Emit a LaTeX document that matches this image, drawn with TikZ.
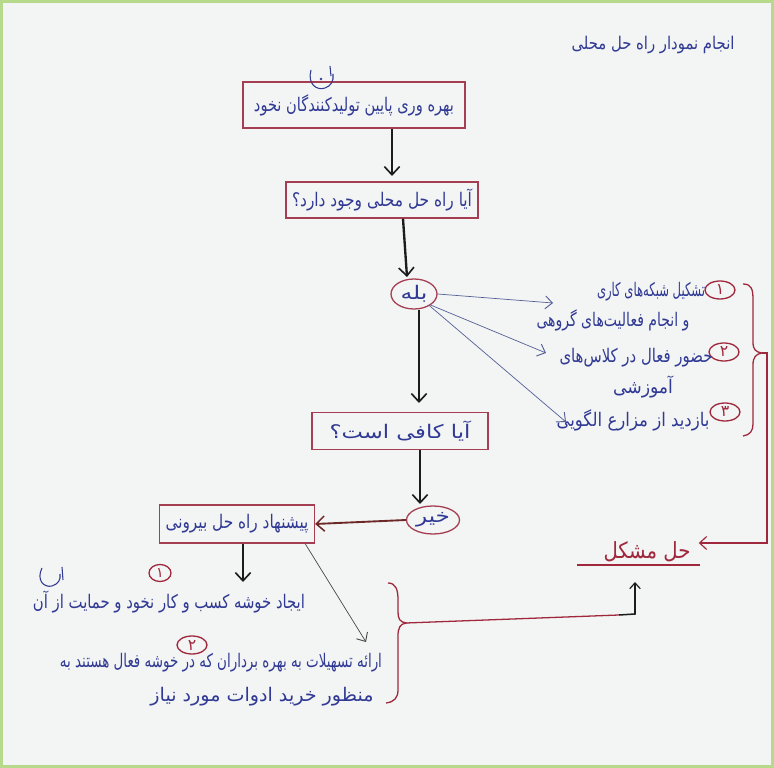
\documentclass[tikz,border=0pt]{standalone}
\usepackage{fontspec}
\usepackage{graphicx}
\setmainfont{DejaVu Sans}
\newfontfamily\fa[Script=Arabic]{DejaVu Sans}
\TeXXeTstate=1
\usetikzlibrary{arrows.meta,shapes.geometric}
\newlength\pxu
\setlength\pxu{0.03cm}
% Persian line at a given font size, stretched to a given width (pixel units)
\newcommand\fw[3][16]{\resizebox{#2\pxu}{\height}{\fa\fontsize{#1}{#1}\selectfont #3}}
% Persian glyph scaled to a given height (pixel units)
\newcommand\fh[2]{\resizebox{!}{#1\pxu}{\fa #2}}
\definecolor{paper}{RGB}{243,244,244}
\definecolor{framegreen}{RGB}{182,217,140}
\definecolor{inkblue}{RGB}{48,58,148}
\definecolor{boxred}{RGB}{165,62,82}
\definecolor{solred}{RGB}{160,40,60}
\definecolor{inkblack}{RGB}{28,28,28}
\definecolor{thinline}{RGB}{85,95,150}
\definecolor{darkred}{RGB}{110,40,40}
\tikzset{
  ink/.style={text=inkblue, inner sep=0pt},
  box/.style={draw=boxred, line width=1.1pt, rectangle, inner sep=0pt, text=inkblue},
  oval/.style={draw=boxred, line width=1.1pt, ellipse, inner sep=0pt, text=inkblue},
  numoval/.style={draw=solred, line width=1.1pt, ellipse, inner sep=0pt, minimum width=30\pxu, minimum height=18\pxu, text=solred},
  flow/.style={draw=inkblack, line width=2pt, -{Straight Barb[length=7pt,width=13pt,line width=1.4pt]}},
  thin/.style={draw=thinline, line width=0.6pt, -{Straight Barb[length=6pt,width=11pt,line width=0.8pt]}},
  bracepath/.style={draw=solred, line width=1.1pt},
  penmark/.style={draw=inkblue, line width=0.9pt},
}
\begin{document}
\begin{tikzpicture}[x=0.03cm,y=-0.03cm]
% page and frame
\fill[paper] (0,0) rectangle (774,768);
\draw[framegreen, line width=3\pxu] (1.5,1.5) rectangle (772.5,766.5);
\useasboundingbox (0,0) rectangle (774,768);

% title
\node[ink] (title) at (653,45) {\fw[15]{163}{\beginR انجام نمودار راه حل محلی\endR}};

% main chain
\node[box, minimum width=222\pxu, minimum height=46\pxu] (b1) at (354,105) {\fw{200}{\beginR بهره وری پایین تولیدکنندگان نخود\endR}};
\node[box, minimum width=192\pxu, minimum height=36\pxu] (b2) at (382,200) {\fw{180}{\beginR آیا راه حل محلی وجود دارد؟\endR}};
\node[oval, minimum width=46\pxu, minimum height=30\pxu] (yes) at (414,294) {\fw{27}{\beginR بله\endR}};
\node[box, minimum width=176\pxu, minimum height=37\pxu] (b3) at (400,431) {\fw{141}{\beginR آیا کافی است؟\endR}};
\node[oval, minimum width=53\pxu, minimum height=28\pxu] (no) at (433,520) {\fw{34}{\beginR خیر\endR}};
\node[box, minimum width=155\pxu, minimum height=38\pxu] (b4) at (237,524) {\fw{143}{\beginR پیشنهاد راه حل بیرونی\endR}};

% hand-drawn tag above the first box
\draw[penmark] (311,70) .. controls (307,84) and (317,91) .. (325,88) .. controls (331,86) and (334,81) .. (333,74);
\draw[penmark] (330,66) -- (331,76);
\fill[inkblue] (321,79) circle (1.3);

\draw[flow] (b1.south -| 392,0) -- (392,176);
\draw[flow] (b2.south -| 403,0) -- (407,277);
\draw[flow] (yes.south -| 419,0) -- (419,403);
\draw[flow] (b3.south -| 420,0) -- (420,504);
\draw[draw=darkred, line width=1.6pt, -{Straight Barb[length=7pt,width=13pt,line width=1.3pt]}] (no.west) -- (b4.east);
\draw[flow] (b4.south -| 243,0) -- (243,582);

% local solutions
\node[numoval] (n1) at (720,290) {\fh{10}{۱}};
\node[ink] (t1a) at (651,292) {\fw{108}{\beginR تشکیل شبکه‌های کاری\endR}};
\node[ink] (t1b) at (613,320) {\fw{153}{\beginR و انجام فعالیت‌های گروهی\endR}};
\node[numoval] (n2) at (724,352) {\fh{10}{۲}};
\node[ink] (t2a) at (636,358) {\fw{153}{\beginR حضور فعال در کلاس‌های\endR}};
\node[ink] (t2b) at (643,387) {\fw{60}{\beginR آموزشی\endR}};
\node[numoval] (n3) at (725,412) {\fh{10}{۳}};
\node[ink] (t3) at (633,420) {\fw{153}{\beginR بازدید از مزارع الگویی\endR}};

\coordinate (e1) at (553,303);
\coordinate (e2) at (546,353);
\coordinate (e3) at (566,422);
\draw[thin] (yes.east) -- (e1);
\draw[thin] (yes.south east) -- (e2);
\draw[thin] ([xshift=-2\pxu]yes.south east) -- (e3);

% right brace and its link to the result
\draw[bracepath] (743,284) .. controls (752,284) and (753,290) .. (753,300) -- (753,342)
  .. controls (753,350) and (756,352) .. (762,353)
  .. controls (756,354) and (753,357) .. (753,365) -- (753,424)
  .. controls (753,431) and (750,435) .. (743,436);
\coordinate (rtip) at (762,353);
\coordinate (rcorner) at (767,543);

% result
\node[text=solred, inner sep=0pt] (res) at (647,552) {\fw[19]{87}{\beginR حل مشکل\endR}};
\draw[solred, line width=1pt] (577,565) -- (700,565);
\draw[solred, line width=1.1pt, -{Straight Barb[length=6pt,width=11pt,line width=1pt]}]
  (rtip) -- (767,353) -- (rcorner) -- ([xshift=8\pxu]res.east |- rcorner);

% external solutions
\node[numoval, minimum width=22\pxu, minimum height=17\pxu] (n4) at (160,573) {\fh{9}{۱}};
\draw[penmark] (42,568) .. controls (36,580) and (44,588) .. (52,586) .. controls (58,584) and (61,580) .. (60,574);
\draw[penmark] (62,567) -- (63,580);
\node[ink] (t4) at (169,602) {\fw{272}{\beginR ایجاد خوشه کسب و کار نخود و حمایت از آن\endR}};
\node[numoval] (n5) at (192,645) {\fh{10}{۲}};
\node[ink] (t5a) at (221,663) {\fw{322}{\beginR ارائه تسهیلات به بهره برداران که در خوشه فعال هستند به\endR}};
\node[ink] (t5b) at (262,697) {\fw{223}{\beginR منظور خرید ادوات مورد نیاز\endR}};
\coordinate (e5) at (366,642);
\draw[thin, draw=inkblack!80] ([xshift=-10\pxu]b4.south east) -- (e5);

% left brace and its link to the result
\draw[bracepath] (388,583) .. controls (396,583) and (398,590) .. (398,600) -- (398,612)
  .. controls (398,619) and (400,622) .. (406,623)
  .. controls (400,624) and (398,628) .. (398,636) -- (398,690)
  .. controls (398,698) and (394,702) .. (386,703);
\coordinate (ltip) at (406,623);
\coordinate (lturn) at (619,615);
\draw[solred, line width=1.1pt] (ltip) -- (lturn);
\draw[inkblack, line width=1.3pt, -{Straight Barb[length=5pt,width=9pt,line width=1pt]}]
  (lturn) -- (635,614) -- (635,582);
\end{tikzpicture}
\end{document}
